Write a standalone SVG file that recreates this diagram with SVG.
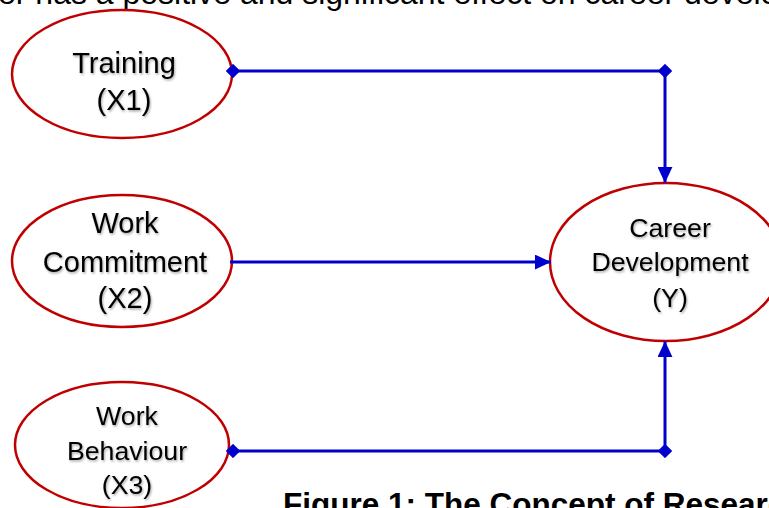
<svg xmlns="http://www.w3.org/2000/svg" width="769" height="508" viewBox="0 0 769 508">
<defs>
<style>
.node{fill:#fff;stroke:#c00000;stroke-width:2.5}
.lbl{font-family:"Liberation Sans",Arial,sans-serif;fill:#000;text-anchor:middle}
.edge{fill:none;stroke:#0000cc;stroke-width:3}
</style>
<filter id="sh" x="-10%" y="-10%" width="120%" height="130%"><feDropShadow dx="1" dy="1.5" stdDeviation="0.8" flood-color="#000" flood-opacity="0.35"/></filter>
<marker id="dia" viewBox="0 0 10 10" refX="5" refY="5" markerWidth="4.8" markerHeight="4.8" markerUnits="strokeWidth" orient="auto"><path d="M5 0 L10 5 L5 10 L0 5 Z" fill="#0000cc"/></marker>
<marker id="arr" viewBox="0 0 10 10" refX="10" refY="5" markerWidth="5.4" markerHeight="5" markerUnits="strokeWidth" orient="auto" preserveAspectRatio="none"><path d="M0 0 L10 5 L0 10 Z" fill="#0000cc"/></marker>
</defs>
<rect width="769" height="508" fill="#fff"/>
<text x="-2" y="4" style="font-family:'Liberation Sans',Arial,sans-serif;font-size:32px" fill="#000">er has a positive and significant effect on career development</text>
<g id="training">
<ellipse class="node" cx="122" cy="74" rx="110" ry="64"/>
<g class="lbl" filter="url(#sh)" font-size="29"><text x="124" y="73">Training</text><text x="124" y="110">(X1)</text></g>
</g>
<g id="commitment">
<ellipse class="node" cx="122" cy="261" rx="110" ry="66"/>
<g class="lbl" filter="url(#sh)" font-size="29"><text x="125" y="233">Work</text><text x="125" y="272">Commitment</text><text x="125" y="308">(X2)</text></g>
</g>
<g id="behaviour">
<ellipse class="node" cx="122" cy="445" rx="107" ry="63"/>
<g class="lbl" filter="url(#sh)" font-size="26.7"><text x="127" y="425">Work</text><text x="127" y="460">Behaviour</text><text x="127" y="494">(X3)</text></g>
</g>
<g id="career">
<ellipse class="node" cx="666" cy="262" rx="116" ry="79"/>
<g class="lbl" filter="url(#sh)" font-size="26.7"><text x="670" y="237">Career</text><text x="670" y="271">Development</text><text x="670" y="307">(Y)</text></g>
</g>
<g id="connectors">
<path class="edge" d="M233 71 H665" marker-start="url(#dia)" marker-end="url(#dia)"/>
<path class="edge" d="M665 71 V183" marker-end="url(#arr)"/>
<path class="edge" d="M230 262 H551" marker-end="url(#arr)"/>
<path class="edge" d="M233 451 H665" marker-start="url(#dia)" marker-end="url(#dia)"/>
<path class="edge" d="M665 451 V341" marker-end="url(#arr)"/>
</g>
<text x="283" y="515" style="font-family:'Liberation Sans',Arial,sans-serif;font-size:31.5px;font-weight:bold" fill="#000">Figure 1: The Concept of Research</text>
</svg>
